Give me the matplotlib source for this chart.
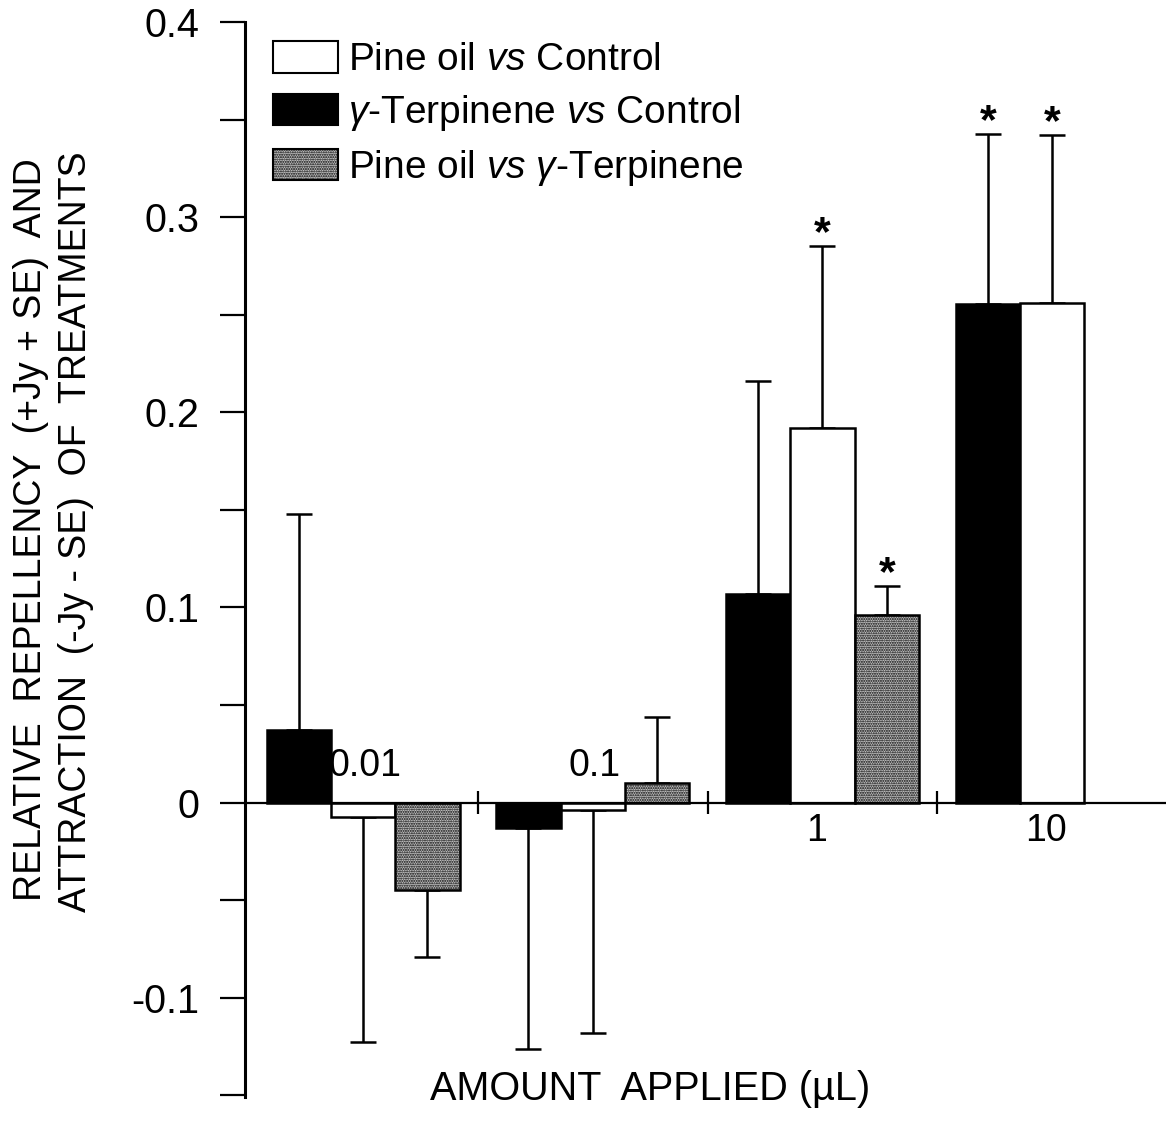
import numpy as np
import matplotlib
matplotlib.use("Agg")
import matplotlib.pyplot as plt
from matplotlib.patches import Patch
from matplotlib.ticker import MultipleLocator

plt.rcParams["font.family"] = ["Liberation Sans", "DejaVu Sans"]
plt.rcParams["mathtext.fontset"] = "custom"
plt.rcParams["mathtext.it"] = "Liberation Sans:italic"
plt.rcParams["mathtext.rm"] = "Liberation Sans"
plt.rcParams["hatch.linewidth"] = 1.0

# amounts applied (uL)
amounts = ["0.01", "0.1", "1", "10"]

# gamma-terpinene vs control (black)
terp_ctrl = [0.037, -0.013, 0.107, 0.2555]
terp_ctrl_se = [0.111, 0.113, 0.109, 0.087]
terp_ctrl_sig = [False, False, False, True]

# pine oil vs control (white)
pine_ctrl = [-0.0074, -0.004, 0.192, 0.256]
pine_ctrl_se = [0.115, 0.114, 0.093, 0.086]
pine_ctrl_sig = [False, False, True, True]

# pine oil vs gamma-terpinene (dotted grey), none at 10 uL
pine_terp = [-0.045, 0.010, 0.096, np.nan]
pine_terp_se = [0.034, 0.034, 0.015, np.nan]
pine_terp_sig = [False, False, True, False]

x = np.arange(len(amounts))
w = 0.28
GREY = "#c4c4c4"
DOTS = "......."

fig = plt.figure(figsize=(11.66, 11.22), dpi=100)
ax = fig.add_axes([0.2101, 0.0223, 0.790, 0.9581])

series = [
    (terp_ctrl, terp_ctrl_se, terp_ctrl_sig, -w, "black", None),
    (pine_ctrl, pine_ctrl_se, pine_ctrl_sig, 0.0, "white", None),
    (pine_terp, pine_terp_se, pine_terp_sig, w, GREY, DOTS),
]

for vals, se, sig, off, col, hatch in series:
    vals = np.array(vals, dtype=float)
    se = np.array(se, dtype=float)
    ax.bar(x + off, vals, width=w, color=col, edgecolor="black",
           linewidth=1.8, hatch=hatch, zorder=3)
    lo = np.where(vals < 0, se, 0.0)
    hi = np.where(vals >= 0, se, 0.0)
    ax.errorbar(x + off, vals, yerr=[lo, hi], fmt="none", ecolor="black",
                elinewidth=1.8, capsize=9.5, capthick=1.8, zorder=2)
    for xi, v, s, flag in zip(x + off, vals, se, sig):
        if flag:
            ax.annotate("*", (xi, v + s), xytext=(0, 1), textcoords="offset points",
                        ha="center", va="baseline", fontsize=31, fontweight="bold")

# zero line with group separators
ax.axhline(0, color="black", lw=1.6, zorder=4)
sep = x[:-1] + 0.5
ax.vlines(sep, -0.006, 0.006, color="black", lw=1.6, zorder=4)

# group labels: above the line where bars hang down, below otherwise
for xi, lab in zip(x, amounts):
    if xi < 2:
        ax.text(xi + 0.01, 0.0187, lab, ha="center", va="center", fontsize=27)
    else:
        ax.text(xi - 0.025, -0.0143, lab, ha="center", va="center", fontsize=27)

ax.set_xlim(-0.514, 3.496)
ax.set_ylim(-0.1508, 0.4)
for s in ["top", "right", "bottom"]:
    ax.spines[s].set_visible(False)
ax.spines["left"].set_linewidth(2.2)
ax.set_xticks([])
ax.yaxis.set_minor_locator(MultipleLocator(0.05))
ax.set_yticks([0.4, 0.3, 0.2, 0.1, 0.0, -0.1])
ax.set_yticklabels(["0.4", "0.3", "0.2", "0.1", "0", "-0.1"])
ax.tick_params(axis="y", which="both", direction="out", length=18, width=1.6,
               labelsize=28.5, pad=15)

handles = [
    Patch(facecolor="white", edgecolor="black", linewidth=1.5),
    Patch(facecolor="black", edgecolor="black", linewidth=1.5),
    Patch(facecolor=GREY, edgecolor="black", linewidth=1.5, hatch=DOTS),
]
labels = [
    r"Pine oil $\mathit{vs}$ Control",
    r"$\mathit{γ}$-Terpinene $\mathit{vs}$ Control",
    r"Pine oil $\mathit{vs}$ $\mathit{γ}$-Terpinene",
]
ax.legend(handles, labels, loc="upper left", bbox_to_anchor=(0.0304, 0.982),
          frameon=False, fontsize=28, handlelength=1.67, handleheight=0.86,
          handletextpad=0.26, labelspacing=0.38, borderpad=0, borderaxespad=0)

fig.text(650 / 1166, 1 - 1089 / 1122, "AMOUNT  APPLIED (µL)", ha="center",
         va="center", fontsize=28.5)
fig.text(31.5 / 1166, 1 - 530 / 1122, "RELATIVE  REPELLENCY  (+Jy + SE)  AND",
         rotation=90, ha="center", va="center", fontsize=27)
fig.text(76.5 / 1166, 1 - 532 / 1122, "ATTRACTION  (-Jy - SE)  OF  TREATMENTS",
         rotation=90, ha="center", va="center", fontsize=27)

fig.savefig("out.png", dpi=100)
